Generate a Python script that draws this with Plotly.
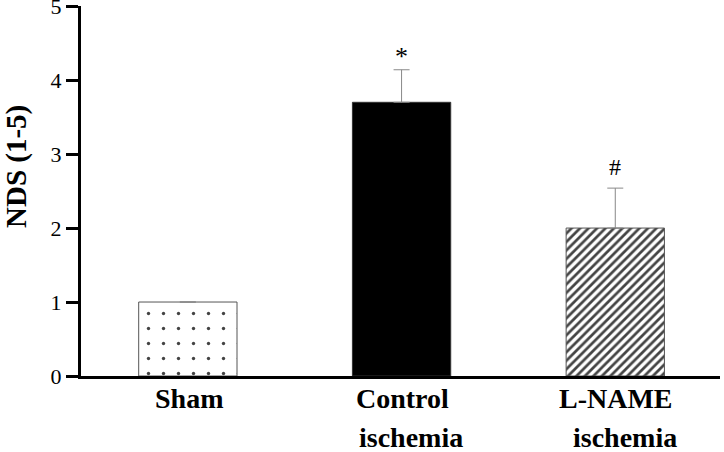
import plotly.graph_objects as go

categories = ["Sham", "Control ischemia", "L-NAME ischemia"]
label_line1 = ["Sham", "Control", "L-NAME"]
label_line2 = ["", "ischemia", " ischemia"]
nds_mean = [1.0, 3.70, 2.0]
nds_err = [0.0, 0.44, 0.54]
markers = ["", "*", "#"]
y_ticks = [0, 1, 2, 3, 4, 5]

FONT = "Liberation Serif"
xpos = list(range(len(categories)))

W, H = 724, 452
ml, mr, mt, mb = 81, 4, 6, 76
pw, ph = W - ml - mr, H - mt - mb

fig = go.Figure()
fig.add_trace(go.Bar(
    x=xpos,
    y=nds_mean,
    width=0.46,
    marker=dict(
        color=["white", "black", "white"],
        line=dict(color=["#555555", "#333333", "#555555"], width=1),
        pattern=dict(
            shape=[".", "", "/"],
            size=[15, 6, 6],
            solidity=[0.04, 0.3, 0.45],
            fgcolor="black",
            fgopacity=1,
            bgcolor="white",
            fillmode="overlay",
        ),
    ),
    error_y=dict(
        type="data",
        symmetric=False,
        array=nds_err,
        arrayminus=[0] * len(nds_err),
        color="#888888",
        thickness=1,
        width=8,
    ),
    showlegend=False,
))

annotations = []
for i, (m, v, e) in enumerate(zip(markers, nds_mean, nds_err)):
    if m:
        annotations.append(dict(
            x=i, y=v + e, xref="x", yref="y", text=m, showarrow=False,
            yanchor="bottom", yshift=-3 if m == "*" else 6,
            font=dict(family=FONT, size=26 if m == "*" else 24, color="black"),
        ))
for i, (l1, l2) in enumerate(zip(label_line1, label_line2)):
    annotations.append(dict(
        x=i, y=0, xref="x", yref="paper", text="<b>%s</b>" % l1, showarrow=False,
        yanchor="middle", yshift=-22, xshift=1,
        font=dict(family=FONT, size=28, color="black"),
    ))
    if l2.strip():
        annotations.append(dict(
            x=i, y=0, xref="x", yref="paper", text="<b>%s</b>" % l2.strip(), showarrow=False,
            yanchor="middle", yshift=-61, xshift=10 if l2.startswith(" ") else 9,
            font=dict(family=FONT, size=28, color="black"),
        ))
annotations.append(dict(
    x=(16 - ml) / pw, y=(H - mb - 167) / ph, xref="paper", yref="paper",
    xanchor="center", yanchor="middle",
    text="<b>NDS (1-5)</b>", showarrow=False,
    textangle=-90, font=dict(family=FONT, size=29, color="black"),
))

fig.update_layout(
    width=W, height=H,
    margin=dict(l=ml, r=mr, t=mt, b=mb, autoexpand=False),
    paper_bgcolor="white", plot_bgcolor="white",
    font=dict(family=FONT, color="black"),
    annotations=annotations,
    xaxis=dict(
        range=[-0.5, 2.49], showgrid=False, zeroline=False,
        showline=True, linecolor="black", linewidth=3,
        showticklabels=False, ticks="", automargin=False,
    ),
    yaxis=dict(
        range=[0, 5.002], tickvals=y_ticks, showgrid=False, zeroline=False,
        showline=True, linecolor="black", linewidth=3,
        ticks="outside", ticklen=12, tickwidth=3, tickcolor="black",
        tickfont=dict(family=FONT, size=22, color="black"),
        ticklabeloverflow="allow",
        automargin=False,
    ),
)

fig.write_html(
    "out.html",
    config={"displayModeBar": False},
    post_script="document.body.style.margin='0';document.body.style.overflow='hidden';",
)
